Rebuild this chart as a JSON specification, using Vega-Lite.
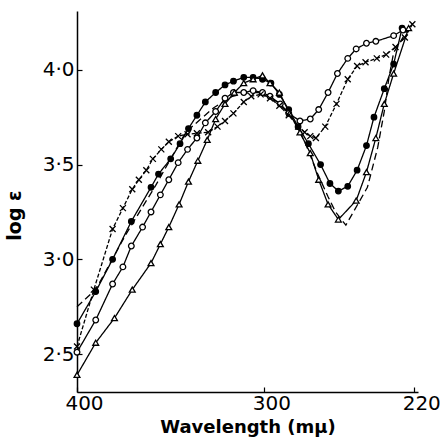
{
  "$schema": "https://vega.github.io/schema/vega-lite/v6.json",
  "width": 341,
  "height": 381,
  "autosize": {"type": "none"},
  "padding": {"left": 77, "top": 11, "right": 22, "bottom": 49},
  "background": "white",
  "config": {"view": {"stroke": null}},
  "datasets": {
    "spectra": [
      {"s":"filled","w":400,"e":2.66},{"s":"filled","w":390,"e":2.83},{"s":"filled","w":381,"e":3.0},{"s":"filled","w":371,"e":3.2},{"s":"filled","w":360.5,"e":3.38},{"s":"filled","w":356.5,"e":3.45},{"s":"filled","w":350,"e":3.53},{"s":"filled","w":345,"e":3.61},{"s":"filled","w":340.5,"e":3.69},{"s":"filled","w":336,"e":3.76},{"s":"filled","w":331.5,"e":3.83},{"s":"filled","w":326,"e":3.88},{"s":"filled","w":321,"e":3.92},{"s":"filled","w":316.5,"e":3.94},{"s":"filled","w":311,"e":3.96},{"s":"filled","w":306,"e":3.96},{"s":"filled","w":301,"e":3.95},{"s":"filled","w":296.5,"e":3.93},{"s":"filled","w":292,"e":3.87},{"s":"filled","w":287,"e":3.79},{"s":"filled","w":282,"e":3.7},{"s":"filled","w":276.5,"e":3.61},{"s":"filled","w":270,"e":3.5},{"s":"filled","w":265,"e":3.4},{"s":"filled","w":260.5,"e":3.36},{"s":"filled","w":255.5,"e":3.385},{"s":"filled","w":250.5,"e":3.47},{"s":"filled","w":245.5,"e":3.6},{"s":"filled","w":241.5,"e":3.75},{"s":"filled","w":236,"e":3.9},{"s":"filled","w":231,"e":4.03},{"s":"filled","w":226.5,"e":4.22},
      {"s":"open","w":400,"e":2.51},{"s":"open","w":390,"e":2.68},{"s":"open","w":381,"e":2.87},{"s":"open","w":375.5,"e":2.96},{"s":"open","w":371,"e":3.07},{"s":"open","w":365,"e":3.17},{"s":"open","w":360.5,"e":3.25},{"s":"open","w":355.5,"e":3.34},{"s":"open","w":351,"e":3.42},{"s":"open","w":346,"e":3.51},{"s":"open","w":341,"e":3.58},{"s":"open","w":336,"e":3.64},{"s":"open","w":331.5,"e":3.72},{"s":"open","w":326,"e":3.78},{"s":"open","w":321,"e":3.85},{"s":"open","w":316.5,"e":3.88},{"s":"open","w":311,"e":3.88},{"s":"open","w":306,"e":3.89},{"s":"open","w":301,"e":3.88},{"s":"open","w":297,"e":3.86},{"s":"open","w":291.5,"e":3.82},{"s":"open","w":287,"e":3.77},{"s":"open","w":281,"e":3.73},{"s":"open","w":275.5,"e":3.74},{"s":"open","w":271,"e":3.79},{"s":"open","w":266,"e":3.88},{"s":"open","w":261,"e":3.98},{"s":"open","w":255.5,"e":4.06},{"s":"open","w":251,"e":4.11},{"s":"open","w":245.5,"e":4.14},{"s":"open","w":240.5,"e":4.15},{"s":"open","w":231,"e":4.18},{"s":"open","w":226,"e":4.21},
      {"s":"tri","w":400,"e":2.39},{"s":"tri","w":390,"e":2.56},{"s":"tri","w":380,"e":2.69},{"s":"tri","w":370.5,"e":2.84},{"s":"tri","w":360.5,"e":2.98},{"s":"tri","w":355.5,"e":3.08},{"s":"tri","w":351,"e":3.17},{"s":"tri","w":345.5,"e":3.29},{"s":"tri","w":340.5,"e":3.41},{"s":"tri","w":335.5,"e":3.52},{"s":"tri","w":330.5,"e":3.63},{"s":"tri","w":326,"e":3.74},{"s":"tri","w":321,"e":3.82},{"s":"tri","w":316,"e":3.88},{"s":"tri","w":311,"e":3.93},{"s":"tri","w":306,"e":3.95},{"s":"tri","w":301,"e":3.97},{"s":"tri","w":297,"e":3.93},{"s":"tri","w":292,"e":3.88},{"s":"tri","w":286.5,"e":3.77},{"s":"tri","w":281,"e":3.67},{"s":"tri","w":275.5,"e":3.56},{"s":"tri","w":271,"e":3.42},{"s":"tri","w":266,"e":3.29},{"s":"tri","w":260.5,"e":3.21},{"s":"tri","w":251,"e":3.31},{"s":"tri","w":245.5,"e":3.46},{"s":"tri","w":240.5,"e":3.64},{"s":"tri","w":236,"e":3.82},{"s":"tri","w":231,"e":3.98},{"s":"tri","w":223,"e":4.22},
      {"s":"cross","w":400,"e":2.54},{"s":"cross","w":391,"e":2.84},{"s":"cross","w":381,"e":3.16},{"s":"cross","w":375.5,"e":3.27},{"s":"cross","w":370.5,"e":3.37},{"s":"cross","w":367,"e":3.42},{"s":"cross","w":363,"e":3.47},{"s":"cross","w":359.5,"e":3.53},{"s":"cross","w":355,"e":3.58},{"s":"cross","w":351,"e":3.62},{"s":"cross","w":346,"e":3.65},{"s":"cross","w":341,"e":3.66},{"s":"cross","w":336,"e":3.665},{"s":"cross","w":330,"e":3.67},{"s":"cross","w":325,"e":3.7},{"s":"cross","w":321,"e":3.73},{"s":"cross","w":316.5,"e":3.77},{"s":"cross","w":311,"e":3.83},{"s":"cross","w":307,"e":3.86},{"s":"cross","w":302,"e":3.87},{"s":"cross","w":297,"e":3.85},{"s":"cross","w":292,"e":3.81},{"s":"cross","w":287,"e":3.76},{"s":"cross","w":282,"e":3.7},{"s":"cross","w":278.5,"e":3.67},{"s":"cross","w":275.5,"e":3.65},{"s":"cross","w":272.5,"e":3.64},{"s":"cross","w":267.5,"e":3.7},{"s":"cross","w":261.5,"e":3.82},{"s":"cross","w":255.5,"e":3.95},{"s":"cross","w":250.5,"e":4.02},{"s":"cross","w":246,"e":4.04},{"s":"cross","w":240,"e":4.06},{"s":"cross","w":235,"e":4.08},{"s":"cross","w":230,"e":4.12},{"s":"cross","w":225,"e":4.17},{"s":"cross","w":221,"e":4.24},
      {"s":"dash","w":400,"e":2.75},{"s":"dash","w":390,"e":2.84},{"s":"dash","w":374,"e":3.13},{"s":"dash","w":358,"e":3.39},{"s":"dash","w":342,"e":3.67},{"s":"dash","w":327,"e":3.8},{"s":"dash","w":317,"e":3.86},{"s":"dash","w":307.5,"e":3.88},{"s":"dash","w":302,"e":3.88},{"s":"dash","w":297,"e":3.85},{"s":"dash","w":293,"e":3.83},{"s":"dash","w":286,"e":3.76},{"s":"dash","w":283.5,"e":3.72},{"s":"dash","w":278,"e":3.61},{"s":"dash","w":271.5,"e":3.45},{"s":"dash","w":266,"e":3.33},{"s":"dash","w":262,"e":3.25},{"s":"dash","w":256.5,"e":3.18},{"s":"dash","w":245,"e":3.38},{"s":"dash","w":239.5,"e":3.59},{"s":"dash","w":236,"e":3.78},{"s":"dash","w":233.5,"e":3.96},{"s":"dash","w":231,"e":4.09},{"s":"dash","w":223,"e":4.22}
    ]
  },
  "data": {"name": "spectra"},
  "encoding": {
    "x": {
      "field": "w", "type": "quantitative",
      "scale": {"domain": [218, 400], "reverse": true, "nice": false, "zero": false},
      "axis": {
        "values": [400, 300, 220], "title": "Wavelength (mμ)", "grid": false,
        "domainColor": "black", "domainWidth": 1.5, "tickColor": "black", "tickWidth": 1.2, "tickSize": -5,
        "labelFont": "DejaVu Sans", "labelFontSize": 20, "labelColor": "black", "labelPadding": 6, "labelOffset": 7,
        "labelFlush": false,
        "titleFont": "DejaVu Sans", "titleFontSize": 18, "titleFontWeight": "bold", "titleColor": "black", "titlePadding": 5
      }
    },
    "y": {
      "field": "e", "type": "quantitative",
      "scale": {"domain": [2.3, 4.31], "nice": false, "zero": false},
      "axis": {
        "values": [2.5, 3.0, 3.5, 4.0], "title": "log ε", "grid": false,
        "labelExpr": "replace(format(datum.value, '.1f'), '.', '·')",
        "domainColor": "black", "domainWidth": 1.5, "tickColor": "black", "tickWidth": 1.2, "tickSize": -5,
        "labelFont": "DejaVu Sans", "labelFontSize": 20, "labelColor": "black", "labelPadding": 8,
        "labelFlush": false,
        "titleFont": "DejaVu Sans", "titleFontSize": 19, "titleFontWeight": "bold", "titleColor": "black",
        "titleX": -63, "titleY": 204, "titleAlign": "center", "titleBaseline": "middle"
      }
    }
  },
  "layer": [
    {
      "mark": {"type": "line", "color": "black", "strokeWidth": 1.3},
      "encoding": {
        "detail": {"field": "s", "type": "nominal"},
        "strokeDash": {
          "field": "s", "type": "nominal", "legend": null,
          "scale": {"domain": ["filled", "open", "tri", "cross", "dash"], "range": [[1, 0], [1, 0], [1, 0], [4, 2], [7, 4]]}
        }
      }
    },
    {
      "transform": [{"filter": "datum.s !== 'dash'"}],
      "mark": {"type": "point", "filled": true, "stroke": "black", "strokeWidth": 1.3, "opacity": 1},
      "encoding": {
        "shape": {
          "field": "s", "type": "nominal", "legend": null,
          "scale": {"domain": ["filled", "open", "tri", "cross"], "range": ["circle", "circle", "triangle-up", "M-1,-1L1,1M-1,1L1,-1"]}
        },
        "fill": {
          "field": "s", "type": "nominal", "legend": null,
          "scale": {"domain": ["filled", "open", "tri", "cross"], "range": ["black", "white", "white", "transparent"]}
        },
        "size": {
          "field": "s", "type": "nominal", "legend": null,
          "scale": {"domain": ["filled", "open", "tri", "cross"], "range": [30, 36, 40, 32]}
        }
      }
    }
  ]
}
